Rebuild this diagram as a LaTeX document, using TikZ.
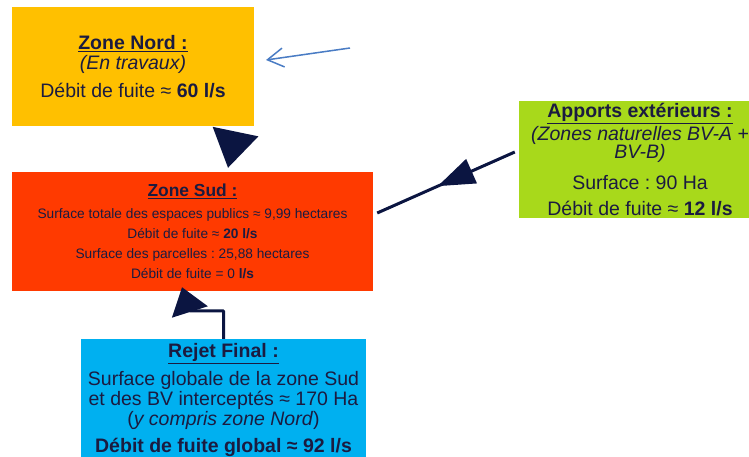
\documentclass[tikz,border=0pt]{standalone}
\usepackage{fontspec}
\setmainfont{Liberation Sans}
\usetikzlibrary{arrows.meta,decorations.markings}
\frenchspacing
\definecolor{nordfill}{HTML}{FFC000}
\definecolor{sudfill}{HTML}{FF3A00}
\definecolor{apportfill}{HTML}{A8D91B}
\definecolor{rejetfill}{HTML}{00B0F0}
\definecolor{navy}{HTML}{0B1541}
\definecolor{txtnavy}{HTML}{1B1B40}
\definecolor{thinblue}{HTML}{4A7CC4}
\begin{document}
\begin{tikzpicture}[x=1pt,y=-1pt,
  zonebox/.style={inner sep=0pt,align=center,text=txtnavy,
    font=\fontsize{19.5}{20}\selectfont},
  flow/.style={draw=navy,line width=3pt,line join=round}]
  \useasboundingbox (0,0) rectangle (749,456);
  \clip (0,0) rectangle (749,456);
  \node[zonebox,fill=nordfill,minimum width=242pt,minimum height=119pt] (nord) at (133,66.5)
    {\textbf{\underline{Zone Nord :}}\\\textit{(En travaux)}\\[8pt]Débit de fuite ≈ \textbf{60 l/s}};
  \node[zonebox,fill=sudfill,minimum width=361pt,minimum height=119pt,
        font=\fontsize{13.7}{20}\selectfont] (sud) at (192.5,231.5)
    {{\fontsize{17.4}{20}\selectfont\textbf{\underline{Zone Sud :}}}\\[2pt]
     Surface totale des espaces publics ≈ 9,99 hectares\\
     Débit de fuite ≈ \textbf{20 l/s}\\
     Surface des parcelles : 25,88 hectares\\
     Débit de fuite = 0 \textbf{l/s}};
  \node[zonebox,fill=apportfill,minimum width=242pt,minimum height=117pt] (apports) at (640,159.5)
    {\textbf{\underline{Apports extérieurs :}}\\[2pt]
     \textit{(Zones naturelles BV-A +}\\[-2pt]
     \textit{BV-B)}\\[11pt]
     Surface : 90 Ha\\[6pt]
     Débit de fuite ≈ \textbf{12 l/s}};
  \node[zonebox,fill=rejetfill,minimum width=285pt,minimum height=122pt] (rejet) at (223.5,400)
    {\textbf{\underline{Rejet Final :}}\\[6pt]
     Surface globale de la zone Sud\\
     et des BV interceptés ≈ 170 Ha\\
     (\textit{y compris zone Nord})\\[7pt]
     \textbf{Débit de fuite global ≈ 92 l/s}};
  \coordinate (bluetail) at (350,48);
  \coordinate (bluehead) at (266,60);
  \draw[thinblue,line width=1.5pt,-{Straight Barb[length=16pt,width=19pt]}] (bluetail) -- (bluehead);
  \draw[flow,-{Triangle[length=37pt,width=46pt]}]
    ([xshift=102pt,yshift=-8pt]nord.south) -- ([xshift=35.5pt,yshift=4pt]sud.north);
  \draw[flow,postaction={decorate},decoration={markings,
      mark=at position 0.56 with {\arrow{Triangle[length=37pt,width=26pt]}}}]
    ([xshift=-4pt,yshift=7.5pt]apports.west) -- ([xshift=4pt,yshift=18.5pt]sud.east);
  \draw[flow,-{Triangle[length=26pt,width=37pt]}]
    (rejet.north) -- ++(0,-28) -- ++(-34,0) -- ([xshift=-10.5pt,yshift=4pt]sud.south);
\end{tikzpicture}
\end{document}
